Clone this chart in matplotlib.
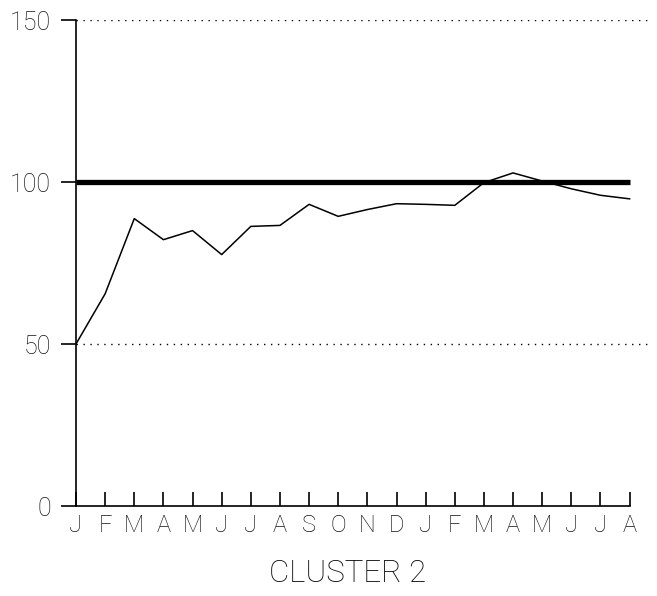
import numpy as np
from matplotlib import pyplot as plt

months = ["J", "F", "M", "A", "M", "J", "J", "A", "S", "O",
          "N", "D", "J", "F", "M", "A", "M", "J", "J", "A"]
values = [50, 65.5, 88.7, 82.2, 85, 77.6, 86.3, 86.6, 93.1, 89.4,
          91.5, 93.3, 93.1, 92.8, 99.8, 102.8, 100.3, 97.9, 95.9, 94.8]
reference = 100
gridlines = [50, 150]
yticks = [0, 50, 100, 150]

plt.rcParams['font.family'] = ['Roboto', 'DejaVu Sans']
plt.rcParams['font.weight'] = 'light'

fig = plt.figure(figsize=(6.57, 5.96), dpi=100)
ax = fig.add_axes([76 / 657, 1 - 506 / 596, (650 - 76) / 657, (506 - 20) / 596])

x = np.arange(len(months))
ax.set_xlim(0, 19.7)
ax.set_ylim(0, 150)

ax.hlines(gridlines, 0, 19.7, colors="black", linestyles=(0, (1, 4)), linewidth=1)
ax.hlines(reference, 0, 19, colors="black", linewidth=3.8)
ax.plot(x, values, color="black", linewidth=1.1)

ax.set_xticks(x)
ax.set_xticklabels(months, fontsize=17, fontweight='light', color='#111111')
ax.set_yticks(yticks)
ax.set_yticklabels([str(v) for v in yticks], fontsize=18, fontweight='light', color='#111111')
ax.tick_params(axis="x", direction="in", length=10, width=1.2, pad=6)
ax.tick_params(axis="y", direction="out", length=11, width=1.2, pad=7)

for side in ["top", "right"]:
    ax.spines[side].set_visible(False)
ax.spines["bottom"].set_bounds(0, 19)
ax.spines["bottom"].set_linewidth(1.2)
ax.spines["left"].set_linewidth(1.2)

fig.text(348 / 657, 1 - 573 / 596, "CLUSTER 2", ha="center", va="center",
         fontsize=22.5, fontweight='light')

fig.savefig("out.png", dpi=100)
